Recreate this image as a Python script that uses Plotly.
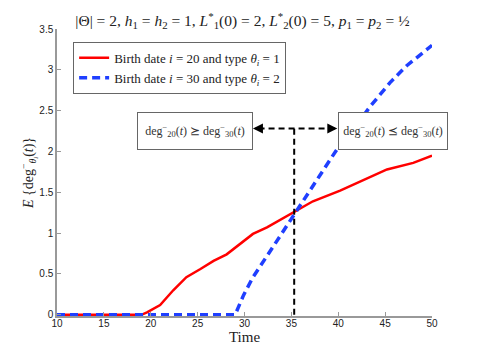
import plotly.graph_objects as go

# curve: birth date 20, type 1
t_red = [10, 19, 19.6, 21.0, 22.4, 23.8, 25.3, 26.7, 28.1, 29.5, 30.9, 32.4, 33.8, 35.2, 37.3, 40.2, 42.3, 45.2, 48.0, 50]
deg_red = [0, 0, 0.03, 0.12, 0.30, 0.46, 0.56, 0.66, 0.74, 0.87, 0.99, 1.07, 1.16, 1.25, 1.39, 1.52, 1.63, 1.78, 1.86, 1.95]

# birth date 30, type 2
t_blue = [10, 29.0, 29.9, 30.9, 32.4, 33.8, 35.2, 38.0, 40.0, 42.0, 43.4, 45.5, 47.3, 50]
deg_blue = [0, 0, 0.24, 0.46, 0.72, 0.97, 1.21, 1.70, 2.05, 2.33, 2.55, 2.84, 3.05, 3.30]

names = ["Birth date <i>i</i> = 20 and type <i>θ<sub>i</sub></i> = 1",
         "Birth date <i>i</i> = 30 and type <i>θ<sub>i</sub></i> = 2"]

# crossing marker and the two region labels
t_cross = 35.3
y_arrow = 2.28
left_box_x, right_box_x = 24.7, 45.8
left_edge, right_edge = 30.9, 39.9

serif = "Liberation Serif"
sans = "Liberation Sans"

fig = go.Figure()
fig.add_trace(go.Scatter(x=t_red, y=deg_red, mode="lines", name=names[0],
                         line=dict(color="#ff0000", width=2.5)))
fig.add_trace(go.Scatter(x=t_blue, y=deg_blue, mode="lines", name=names[1],
                         line=dict(color="#1f3fff", width=3.5, dash="8px,5px")))

# dashed black guide lines
fig.add_shape(type="line", x0=t_cross, x1=t_cross, y0=0, y1=y_arrow,
              line=dict(color="black", width=2, dash="6px,4px"))
fig.add_shape(type="line", x0=left_edge + 0.6, x1=right_edge - 0.6, y0=y_arrow, y1=y_arrow,
              line=dict(color="black", width=2, dash="6px,4px"))
# arrow heads
for tip, tail in [(left_edge, left_edge + 0.8), (right_edge, right_edge - 0.8)]:
    fig.add_annotation(x=tip, y=y_arrow, ax=tail, ay=y_arrow, axref="x", ayref="y",
                       xref="x", yref="y", text="", showarrow=True,
                       arrowhead=2, arrowsize=1, arrowwidth=2, arrowcolor="black")

box_texts = ["deg<sup>−</sup><sub>20</sub>(<i>t</i>) ⪰ deg<sup>−</sup><sub>30</sub>(<i>t</i>)",
             "deg<sup>−</sup><sub>20</sub>(<i>t</i>) ⪯ deg<sup>−</sup><sub>30</sub>(<i>t</i>)"]
for bx, txt, w in zip([left_box_x, right_box_x], box_texts, [108, 102]):
    fig.add_annotation(x=bx, y=y_arrow - 0.03, xref="x", yref="y", text=txt, showarrow=False,
                       font=dict(family=serif, size=12, color="#333"),
                       bgcolor="white", bordercolor="#666", borderwidth=1, borderpad=3,
                       width=w, height=30)

# the page body adds an 8px margin, so the figure is sized to sit inside 485x353
fig.update_layout(
    width=469, height=337,
    margin=dict(l=49, r=45, t=21, b=29),
    paper_bgcolor="white", plot_bgcolor="white",
    title=dict(text="|Θ| = 2, <i>h</i><sub>1</sub> = <i>h</i><sub>2</sub> = 1, "
                    "<i>L</i><sup>*</sup><sub>1</sub>(0) = 2, <i>L</i><sup>*</sup><sub>2</sub>(0) = 5, "
                    "<i>p</i><sub>1</sub> = <i>p</i><sub>2</sub> = ½",
               x=0.5, xanchor="center", y=0.962, yanchor="middle",
               font=dict(family=serif, size=15.5, color="#222")),
    showlegend=True,
    legend=dict(x=0.043, y=0.955, xanchor="left", yanchor="top",
                bgcolor="white", bordercolor="#666", borderwidth=1,
                font=dict(family=serif, size=13, color="#222")),
)
fig.update_xaxes(range=[10, 50], tickvals=list(range(10, 51, 5)), automargin=False,
                 showgrid=False, zeroline=False, showline=True, linecolor="#999", linewidth=1.5,
                 ticks="inside", ticklen=4, tickcolor="#999", ticklabelstandoff=-3,
                 tickfont=dict(family=sans, size=10, color="#222"),
                 title=dict(text="Time", font=dict(family=serif, size=15, color="#222"), standoff=0))
fig.update_yaxes(range=[-0.015, 3.5], tickvals=[0, 0.5, 1, 1.5, 2, 2.5, 3, 3.5], automargin=False,
                 ticktext=["0", "0.5", "1", "1.5", "2", "2.5", "3", "3.5"],
                 showgrid=False, zeroline=False, showline=True, linecolor="#999", linewidth=1.5,
                 ticks="inside", ticklen=4, tickcolor="#999",
                 tickfont=dict(family=sans, size=10, color="#222"),
                 title=dict(text="<i>E</i> {deg<sup>−</sup><sub><i>θ<sub>i</sub></i></sub>(<i>t</i>)}",
                            font=dict(family=serif, size=14, color="#222"), standoff=1))

fig.write_html("out.html")
